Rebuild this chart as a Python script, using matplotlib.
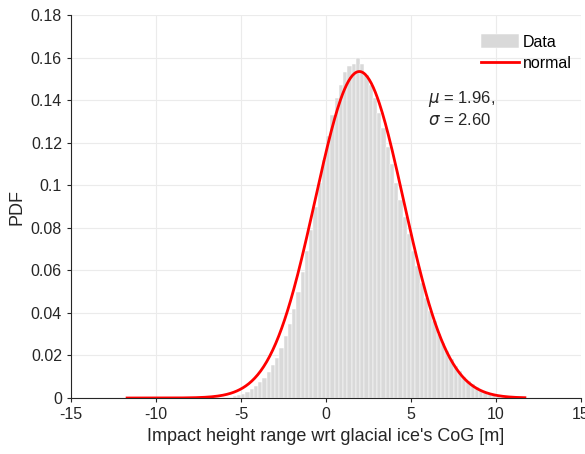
import numpy as np
import matplotlib.pyplot as plt

plt.rcParams['font.family'] = ['Liberation Sans', 'DejaVu Sans']
plt.rcParams['axes.unicode_minus'] = False

# histogram (bin width 0.25), left edge of first bin and densities
bin_width = 0.25
first_edge = -5.5
pdf_vals = [0.001, 0.0015, 0.002, 0.003, 0.004, 0.0055, 0.0075, 0.0095,
            0.012, 0.0155, 0.019, 0.0235, 0.029, 0.035, 0.042, 0.050,
            0.059, 0.069, 0.079, 0.090, 0.101, 0.112, 0.123, 0.133,
            0.141, 0.147, 0.153, 0.156, 0.157, 0.160, 0.157, 0.152,
            0.147, 0.141, 0.134, 0.127, 0.118, 0.110, 0.101, 0.093,
            0.085, 0.077, 0.069, 0.062, 0.054, 0.047, 0.041, 0.036,
            0.030, 0.026, 0.022, 0.0185, 0.015, 0.0125, 0.010, 0.008,
            0.0065, 0.005, 0.0038, 0.0028, 0.002, 0.0014, 0.001]

mu = 1.96
sigma = 2.60
fit_range = (-11.7, 11.7)

edges = first_edge + bin_width * np.arange(len(pdf_vals))

fig = plt.figure(figsize=(5.85, 4.54), dpi=100)
ax = fig.add_axes([71/585, 1 - 398/454, 510/585, 383/454])

bars = ax.bar(edges, pdf_vals, width=bin_width, align='edge', color='#d9d9d9',
              edgecolor='white', linewidth=0.35, label='Data', zorder=2)

xs = np.linspace(fit_range[0], fit_range[1], 400)
ys = np.exp(-0.5 * ((xs - mu) / sigma) ** 2) / (sigma * np.sqrt(2 * np.pi))
line, = ax.plot(xs, ys, color='red', lw=2, label='normal', zorder=3)

ax.set_xlim(-15, 15)
ax.set_ylim(0, 0.18)
ax.set_xticks(np.arange(-15, 16, 5))
ax.set_yticks(np.arange(0, 0.181, 0.02))
ax.set_yticklabels(['0', '0.02', '0.04', '0.06', '0.08', '0.1', '0.12',
                    '0.14', '0.16', '0.18'])
ax.grid(True, color='#ebebeb', lw=0.8, zorder=0)
ax.set_axisbelow(True)
for s in ['top', 'right']:
    ax.spines[s].set_visible(False)
for s in ['left', 'bottom']:
    ax.spines[s].set_color('#262626')
    ax.spines[s].set_linewidth(0.8)
ax.tick_params(colors='#262626', labelsize=11.5, length=3, width=0.8)

ax.set_xlabel("Impact height range wrt glacial ice's CoG [m]", fontsize=13,
              color='#262626')
ax.set_ylabel('PDF', fontsize=13, color='#262626')

ax.text(0.70, 0.755, '$\\mu$ = %.2f,\n$\\sigma$ = %.2f' % (mu, sigma),
        transform=ax.transAxes, fontsize=12, color='#262626',
        va='center', ha='left', linespacing=1.25)

leg = ax.legend([bars, line], ['Data', 'normal'], loc='upper right',
                bbox_to_anchor=(1.0, 0.975), frameon=False,
                fontsize=11.5, handlelength=2.4, handleheight=1.0,
                handletextpad=0.2, borderaxespad=0.2, labelspacing=0.35)

fig.savefig('out.png', dpi=100)
